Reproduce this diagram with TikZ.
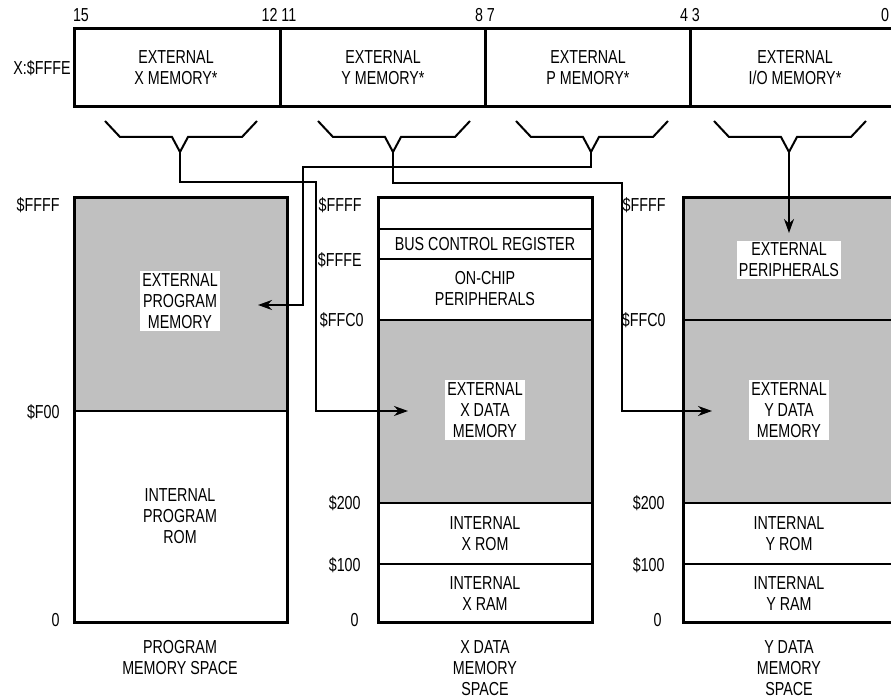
\documentclass[tikz,border=0pt]{standalone}
\usepackage{fontspec}
\setmainfont[FakeStretch=0.76]{Liberation Sans}
\usetikzlibrary{arrows.meta,positioning}
\definecolor{shadegray}{RGB}{192,192,192}

\tikzset{
  box/.style={draw, line width=1.5pt},
  part/.style={line width=0.8pt},
  lbl/.style={font=\fontsize{9.4}{10.5}\selectfont, align=center, inner sep=1pt},
  addr/.style={lbl, anchor=east},
  onshade/.style={lbl, fill=white},
  brace/.style={line width=1pt, line join=miter},
  link/.style={line width=1pt, -{Stealth[length=7pt,width=5pt]}},
}

\begin{document}
\begin{tikzpicture}[x=0.5pt,y=-0.5pt]
    \clip (0,0) rectangle (891,699);

    % Bus control register fields
    \draw[box] (74,29) rectangle (905,107);
    \foreach \x in {280,485,690} \draw[box] (\x,29) -- (\x,107);
    \node[lbl] (b15) at (81,15) {15};
    \node[lbl] (b1211) at (279,15) {12 11};
    \node[lbl] (b87) at (485,15) {8 7};
    \node[lbl] (b43) at (690,15) {4 3};
    \node[lbl] (b0) at (885,15) {0};
    \node[lbl] (regaddr) at (42,68) {X:\$FFFE};
    \node[lbl] (fx) at (176,68) {EXTERNAL\\X MEMORY*};
    \node[lbl] (fy) at (383,68) {EXTERNAL\\Y MEMORY*};
    \node[lbl] (fp) at (588,68) {EXTERNAL\\P MEMORY*};
    \node[lbl] (fio) at (795,68) {EXTERNAL\\I/O MEMORY*};

    % Brackets under each field
    \foreach \c [count=\i] in {180,393,591,789} {
        \draw[brace] (\c-75,121) -- (\c-60,137) -- (\c-8,137) -- (\c,152) -- (\c+8,137) -- (\c+62,137) -- (\c+77,121);
        \coordinate (tip\i) at (\c,152);
    }

    % Program memory space
    \fill[shadegray] (74,198) rectangle (287,411);
    \draw[part] (74,411) -- (287,411);
    \draw[box] (74,198) rectangle (287,623);
    \node[addr] (pffff) at (62,205) {\$FFFF};
    \node[addr] (pf00) at (62,412) {\$F00};
    \node[addr] (p0) at (62,620) {0};
    \node[onshade] (extprog) at (180,301) {EXTERNAL\\PROGRAM\\MEMORY};
    \node[lbl] (intprog) at (180,516) {INTERNAL\\PROGRAM\\ROM};
    \node[lbl] (progspace) at (180,658) {PROGRAM\\MEMORY SPACE};

    % X data memory space
    \fill[shadegray] (378,320) rectangle (592,503);
    \foreach \y in {229,259,320,503,564} \draw[part] (378,\y) -- (592,\y);
    \draw[box] (378,198) rectangle (592,623);
    \node[addr] (xffff) at (364,205) {\$FFFF};
    \node[addr] (xfffe) at (364,260) {\$FFFE};
    \node[addr] (xffc0) at (366,320) {\$FFC0};
    \node[addr] (x200) at (363,503) {\$200};
    \node[addr] (x100) at (363,565) {\$100};
    \node[addr] (x0) at (361,620) {0};
    \node[lbl] (bcr) at (485,244) {BUS CONTROL REGISTER};
    \node[lbl] (onchip) at (485,289) {ON-CHIP\\PERIPHERALS};
    \node[onshade] (extx) at (485,410) {EXTERNAL\\X DATA\\MEMORY};
    \node[lbl] (xrom) at (485,534) {INTERNAL\\X ROM};
    \node[lbl] (xram) at (485,594) {INTERNAL\\X RAM};
    \node[lbl] (xspace) at (485,668) {X DATA\\MEMORY\\SPACE};

    % Y data memory space
    \fill[shadegray] (683,198) rectangle (905,503);
    \foreach \y in {320,503,564} \draw[part] (683,\y) -- (905,\y);
    \draw[box] (683,198) rectangle (905,623);
    \node[addr] (yffff) at (668,205) {\$FFFF};
    \node[addr] (yffc0) at (668,320) {\$FFC0};
    \node[addr] (y200) at (667,503) {\$200};
    \node[addr] (y100) at (667,565) {\$100};
    \node[addr] (y0) at (664,620) {0};
    \node[onshade] (extper) at (789,260) {EXTERNAL\\PERIPHERALS};
    \node[onshade] (exty) at (789,410) {EXTERNAL\\Y DATA\\MEMORY};
    \node[lbl] (yrom) at (789,534) {INTERNAL\\Y ROM};
    \node[lbl] (yram) at (789,594) {INTERNAL\\Y RAM};
    \node[lbl] (yspace) at (789,668) {Y DATA\\MEMORY\\SPACE};

    % Connectors from the fields
    \coordinate (pmin) at (258,305);
    \coordinate (xdin) at (408,411);
    \coordinate (ydin) at (712,411);
    \coordinate (perin) at (789,233);
    \draw[link] (tip1) |- (316,182) |- (xdin);
    \draw[link] (tip2) |- (622,183) |- (ydin);
    \draw[link] (tip3) |- (303,167) |- (pmin);
    \draw[link] (tip4) -- (perin);
\end{tikzpicture}
\end{document}
